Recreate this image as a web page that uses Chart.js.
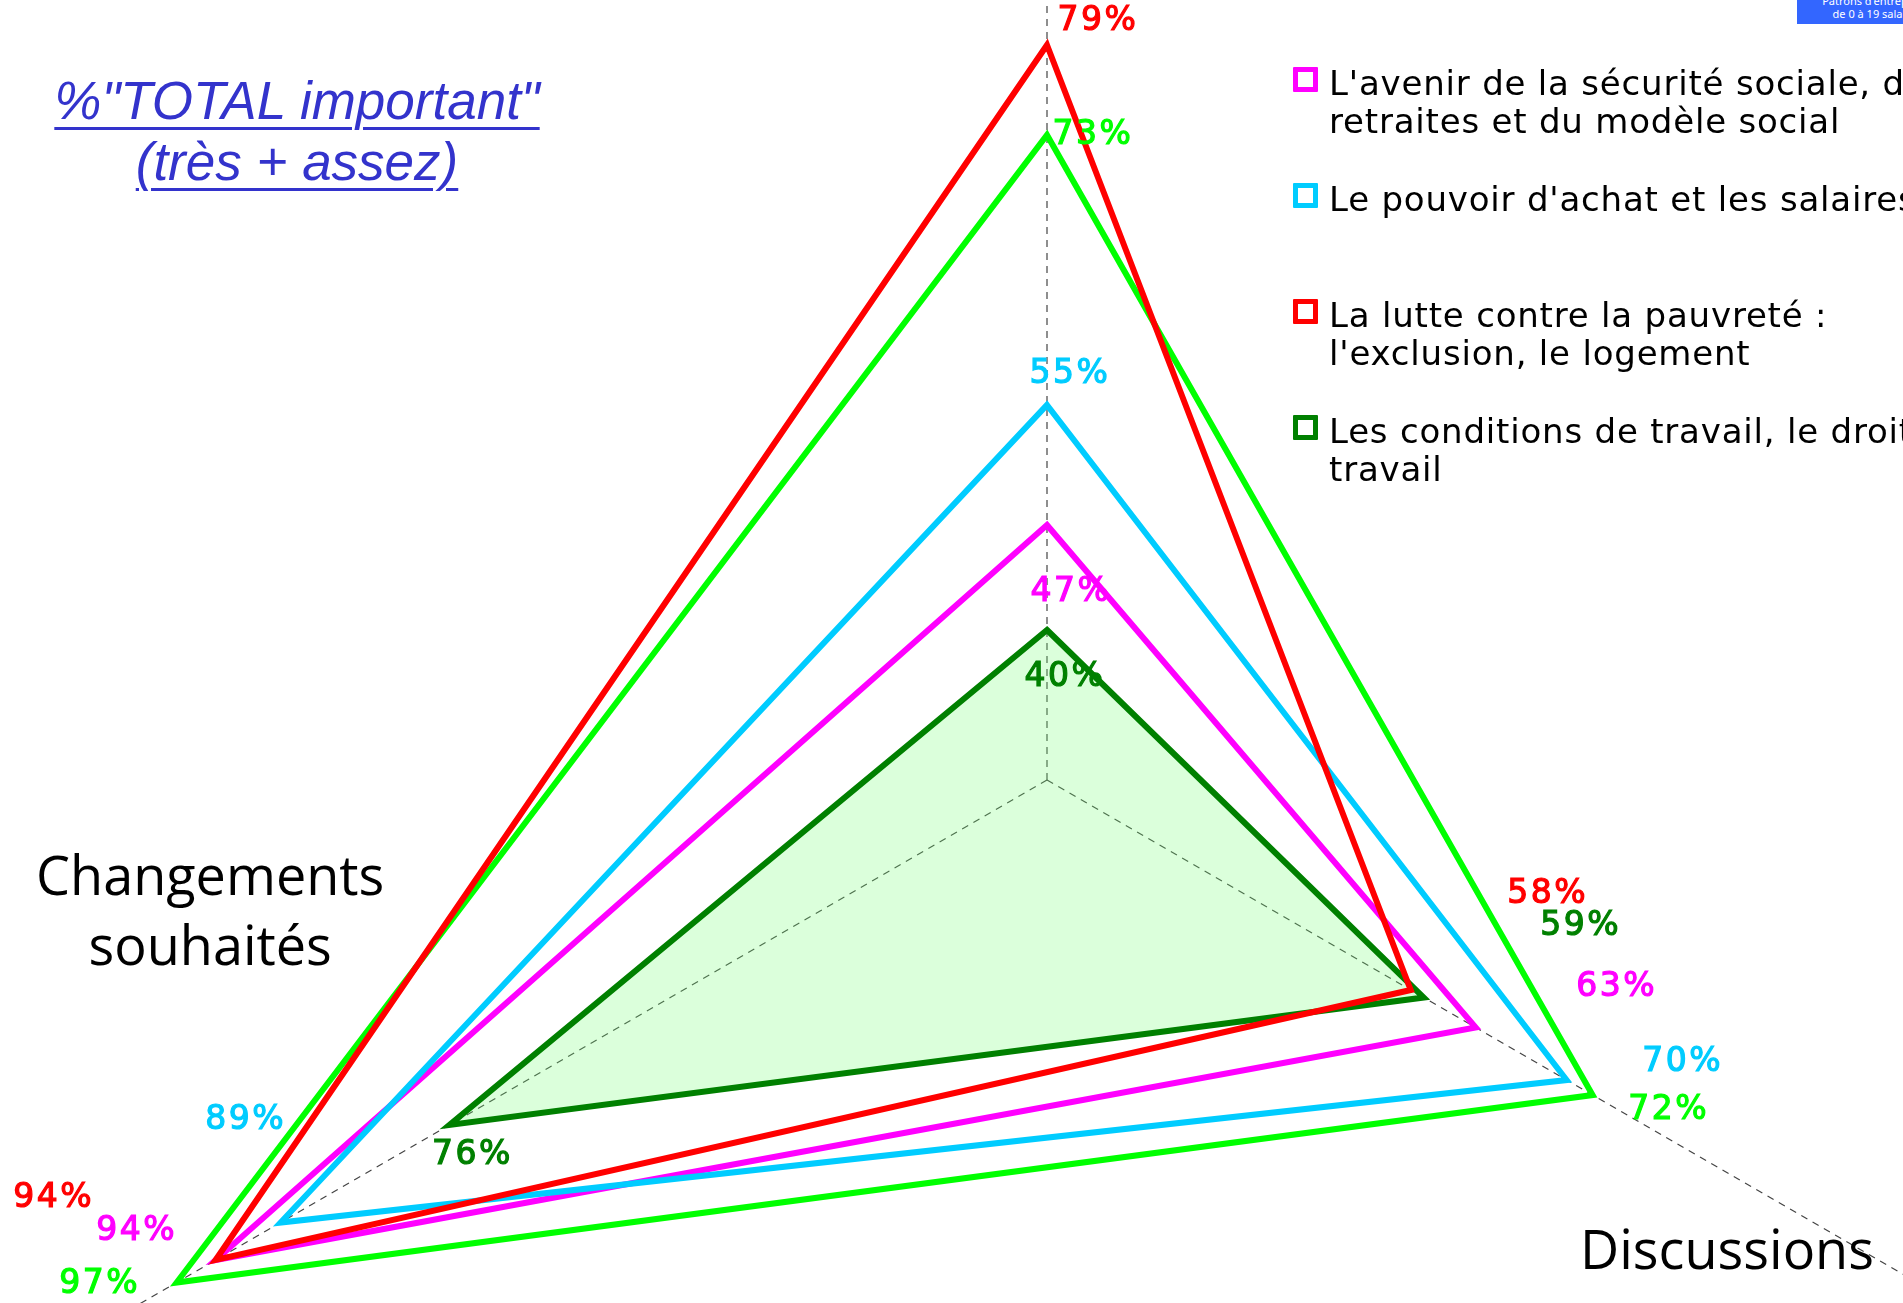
<!DOCTYPE html>
<html lang="fr">
<head>
<meta charset="utf-8">
<title>% TOTAL important</title>
<script src="https://cdn.jsdelivr.net/npm/chart.js@4/dist/chart.umd.min.js"></script>
<style>
  html, body { margin: 0; padding: 0; background: #fff; }
  body { width: 1903px; height: 1303px; overflow: hidden; position: relative; font-family: "DejaVu Sans", sans-serif; }
  #wrap { position: absolute; left: -3px; top: -270px; width: 2100px; height: 2100px; }
  #title { position: absolute; left: 42px; top: 70px; width: 510px; text-align: center;
           font-family: "Liberation Sans", sans-serif; font-style: italic; font-size: 53px; line-height: 61px;
           color: #3333cc; text-decoration: underline; text-decoration-thickness: 3px; text-underline-offset: 8px; }
  .cat { position: absolute; font-family: "Open Sans", sans-serif; font-weight: 400; font-size: 54px; line-height: 70px; color: #000; text-align: center; white-space: nowrap; }
  .leg { position: absolute; left: 1329px; font-size: 34px; line-height: 38px; color: #000; white-space: nowrap; letter-spacing: 0.8px; }
  .leg i { position: absolute; left: -36px; top: 3px; width: 15px; height: 15px; border: 5px solid; background: #fff; border-radius: 1px; }
  #badge { position: absolute; left: 1797px; top: -10px; width: 160px; height: 30px; padding-top: 4px; background: #3366ff;
           color: #fff; font-family: "Noto Sans", sans-serif; font-size: 11px; line-height: 13px; text-align: center; }
</style>
</head>
<body>
<div id="wrap"><canvas id="radar" width="2100" height="2100"></canvas></div>
<div id="title">%"TOTAL important"<br>(très + assez)</div>
<div id="badge">Patrons d'entreprises<br>de 0 à 19 salariés</div>
<div id="legend"></div>
<div id="cats"></div>
<script>
// axes du radar (le libellé du haut est hors cadre)
const categories = ['', 'Discussions', 'Changements souhaités'];

// valeurs en %
const avenirSecu = [47, 63, 94];
const pouvoirAchat = [55, 70, 89];
const luttePauvrete = [79, 58, 94];
const conditionsTravail = [40, 59, 76];
const serieVerte = [73, 72, 97];

const seriesNames = [
    ["L'avenir de la sécurité sociale, des", "retraites et du modèle social"],
    ["Le pouvoir d'achat et les salaires"],
    ["La lutte contre la pauvreté :", "l'exclusion, le logement"],
    ["Les conditions de travail, le droit du", "travail"]
];
const seriesColors = ['#ff00ff', '#00ccff', '#ff0000', '#008000'];

// décalage des étiquettes % par rapport au sommet
const labelOffsets = [
    [[24, 67], [141, -40], [-79, -29]],
    [[23, -31], [116, -18], [-35, -102]],
    [[51, -24], [137, -96], [-162, -62]],
    [[18, 47], [157, -71], [23, 30]],
    [[46, 0], [76, 15], [-77, 2]]
];

// légende
const legend = document.getElementById("legend");
seriesNames.forEach((lines, i) => {
    const div = document.createElement("div");
    div.className = "leg";
    div.style.top = (64 + i * 116) + "px";
    div.innerHTML = `<i style="border-color:${seriesColors[i]}"></i>` + lines.join("<br>");
    legend.appendChild(div);
});

// libellés des axes
const cats = document.getElementById("cats");
const c1 = document.createElement("div");
c1.className = "cat";
c1.style.left = "1580px"; c1.style.top = "1213px";
c1.textContent = categories[1];
cats.appendChild(c1);
const c2 = document.createElement("div");
c2.className = "cat";
c2.style.left = "36px"; c2.style.top = "839px";
c2.innerHTML = categories[2].replace(" ", "<br>");
cats.appendChild(c2);

// étiquettes % à côté des sommets
const valueLabels = {
    id: 'valueLabels',
    afterDatasetsDraw(chart) {
        const ctx = chart.ctx;
        const scale = chart.scales.r;
        ctx.save();
        ctx.font = '33px "DejaVu Sans"';
        ctx.letterSpacing = '2.5px';
        ctx.textAlign = 'center';
        ctx.textBaseline = 'middle';
        ctx.lineWidth = 1.2;
        chart.data.datasets.forEach((ds, i) => {
            ctx.fillStyle = ds.borderColor;
            ctx.strokeStyle = ds.borderColor;
            ds.data.forEach((v, j) => {
                const p = scale.getPointPositionForValue(j, v);
                const off = labelOffsets[i][j];
                ctx.fillText(v + '%', p.x + off[0], p.y + off[1]);
                ctx.strokeText(v + '%', p.x + off[0], p.y + off[1]);
            });
        });
        ctx.restore();
    }
};

const ctx = document.getElementById("radar").getContext("2d");
new Chart(ctx, {
    type: 'radar',
    data: {
        labels: categories,
        datasets: [
            { label: seriesNames[0].join(' '), data: avenirSecu, borderColor: '#ff00ff', order: 3 },
            { label: seriesNames[1].join(' '), data: pouvoirAchat, borderColor: '#00ccff', order: 2 },
            { label: seriesNames[2].join(' '), data: luttePauvrete, borderColor: '#ff0000', order: 1 },
            { label: seriesNames[3].join(' '), data: conditionsTravail, borderColor: '#008000',
              backgroundColor: 'rgba(110,255,110,0.25)', fill: true, order: 5 },
            { label: '', data: serieVerte, borderColor: '#00ff00', order: 4 }
        ]
    },
    options: {
        responsive: false,
        animation: false,
        elements: {
            line: { borderWidth: 6, tension: 0, borderJoinStyle: 'miter', fill: false },
            point: { radius: 0, hoverRadius: 0 }
        },
        scales: {
            r: {
                min: 30,
                max: 100,
                ticks: { display: false },
                grid: { display: false },
                pointLabels: { display: false },
                angleLines: { color: '#444', lineWidth: 1.2, borderDash: [7, 6] }
            }
        },
        plugins: {
            legend: { display: false },
            tooltip: { enabled: false }
        }
    },
    plugins: [valueLabels]
});
</script>
</body>
</html>
